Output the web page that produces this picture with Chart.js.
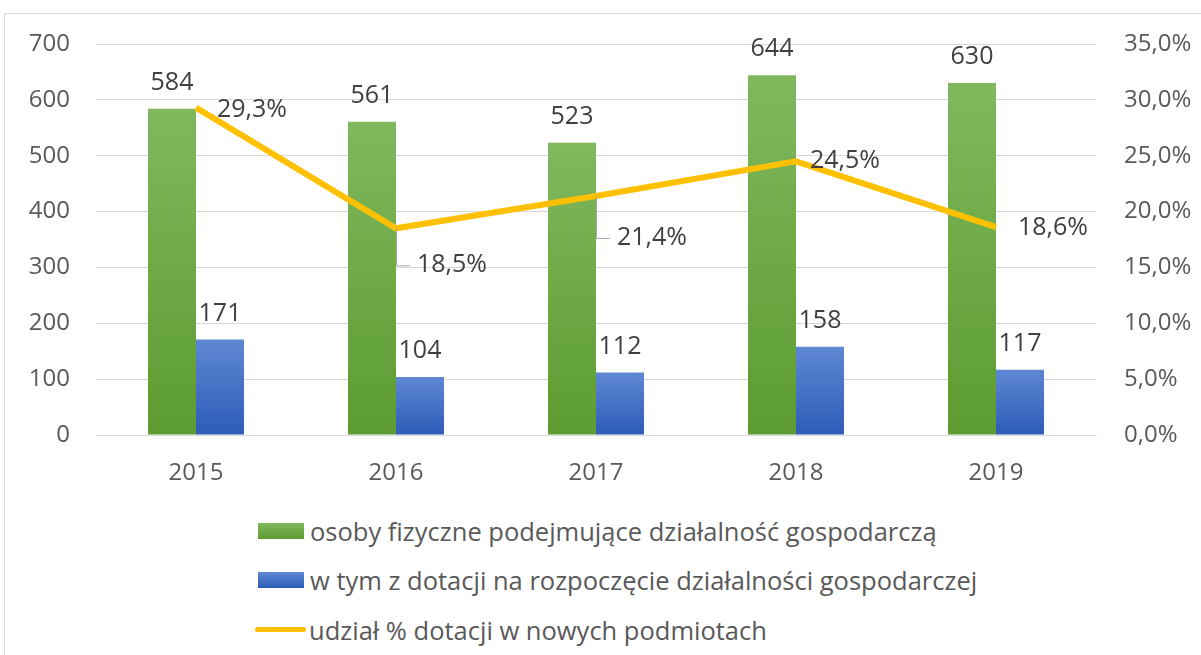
<!DOCTYPE html>
<html lang="pl">
<head>
<meta charset="UTF-8">
<title>Osoby fizyczne podejmujące działalność gospodarczą</title>
<script src="https://cdn.jsdelivr.net/npm/chart.js"></script>
<style>
    body {
        margin: 0;
        background: #fff;
        font-family: "Open Sans", sans-serif;
        overflow: hidden;
    }
    #frame {
        position: absolute;
        left: 4px;
        top: 13px;
        width: 1210px;
        height: 660px;
        border: 1px solid #d9d9d9;
    }
    #box {
        position: absolute;
        left: 0;
        top: 0;
        width: 1196px;
        height: 480px;
    }
    #legend {
        position: absolute;
        left: 253px;
        top: 492px;
        color: #595959;
        font-size: 25.5px;
    }
    #legend div {
        height: 49.5px;
        display: flex;
        align-items: center;
    }
    #legend span.sw {
        display: inline-block;
        width: 46px;
        height: 16px;
        margin-right: 6px;
    }
    #legend span.ln {
        display: inline-block;
        width: 51px;
        height: 5px;
        border-radius: 3px;
        margin: 0 3px 0 -3px;
    }
</style>
</head>
<body>
<div id="frame">
    <div id="box"><canvas id="chart"></canvas></div>
    <div id="legend"></div>
</div>

<script>
const years = ['2015', '2016', '2017', '2018', '2019'];
const osoby = [584, 561, 523, 644, 630];
const dotacje = [171, 104, 112, 158, 117];
const udzial = [29.3, 18.5, 21.4, 24.5, 18.6];

const labelNames = [
    'osoby fizyczne podejmujące działalność gospodarczą',
    'w tym z dotacji na rozpoczęcie działalności gospodarczej',
    'udział % dotacji w nowych podmiotach'
];

const greenTop = '#80b85e', greenBottom = '#5c9c30';
const blueTop = '#5f88d3', blueBottom = '#2c5cb8';

function pct(v) {
    return v.toFixed(1).replace('.', ',') + '%';
}

// gradient for each bar, top light -> bottom dark
function barGradient(top, bottom) {
    return function (ctx) {
        const chart = ctx.chart;
        if (!chart.chartArea || ctx.parsed === undefined) return bottom;
        const y = chart.scales.y;
        const y0 = y.getPixelForValue(0);
        const y1 = y.getPixelForValue(ctx.parsed.y);
        if (!isFinite(y0) || !isFinite(y1) || y0 === y1) return bottom;
        const g = chart.ctx.createLinearGradient(0, y1, 0, y0);
        g.addColorStop(0, top);
        g.addColorStop(1, bottom);
        return g;
    };
}

// offsets for the % labels: [dx, dy, leader]
const lineLabelPos = [[21, 2, false], [21, 37, true], [21, 42, true], [14, 0, false], [22, 1, false]];

const valueLabels = {
    id: 'valueLabels',
    afterDatasetsDraw(chart) {
        const ctx = chart.ctx;
        ctx.save();
        ctx.font = '25px "Open Sans"';
        ctx.fillStyle = '#404040';
        ctx.textBaseline = 'middle';
        chart.data.datasets.forEach((ds, i) => {
            const meta = chart.getDatasetMeta(i);
            meta.data.forEach((el, j) => {
                const v = ds.data[j];
                if (ds.type === 'line') {
                    const p = lineLabelPos[j];
                    if (p[2]) {
                        ctx.strokeStyle = '#a6a6a6';
                        ctx.lineWidth = 1;
                        ctx.beginPath();
                        ctx.moveTo(el.x + 0.5, el.y);
                        ctx.lineTo(el.x + 0.5, el.y + p[1] + 0.5);
                        ctx.lineTo(el.x + p[0] - 7, el.y + p[1] + 0.5);
                        ctx.stroke();
                    }
                    ctx.textAlign = 'left';
                    ctx.fillText(pct(v), el.x + p[0], el.y + p[1]);
                } else {
                    ctx.textAlign = 'center';
                    ctx.fillText(String(v), el.x, el.y - 26);
                }
            });
        });
        ctx.restore();
    }
};

const ctx = document.getElementById('chart').getContext('2d');
const chart = new Chart(ctx, {
    data: {
        labels: years,
        datasets: [
            {
                type: 'line',
                label: labelNames[2],
                data: udzial,
                yAxisID: 'y1',
                borderColor: '#FFC000',
                backgroundColor: '#FFC000',
                borderWidth: 6,
                pointRadius: 0,
                tension: 0,
                order: 0
            },
            {
                type: 'bar',
                label: labelNames[0],
                data: osoby,
                yAxisID: 'y',
                backgroundColor: barGradient(greenTop, greenBottom),
                categoryPercentage: 0.48,
                barPercentage: 1,
                order: 1
            },
            {
                type: 'bar',
                label: labelNames[1],
                data: dotacje,
                yAxisID: 'y',
                backgroundColor: barGradient(blueTop, blueBottom),
                categoryPercentage: 0.48,
                barPercentage: 1,
                order: 1
            }
        ]
    },
    options: {
        responsive: true,
        maintainAspectRatio: false,
        animation: false,
        layout: { padding: { top: 30, left: 0, right: 0, bottom: 0 } },
        plugins: {
            legend: { display: false },
            tooltip: { enabled: false }
        },
        scales: {
            x: {
                grid: { display: false, drawTicks: false },
                border: { color: '#d9d9d9' },
                ticks: { color: '#595959', font: { family: 'Open Sans', size: 24 }, padding: 24 },
                afterFit(s) { s.height = 59; s.paddingLeft = 0; s.paddingRight = 0; }
            },
            y: {
                position: 'left',
                min: 0,
                max: 700,
                ticks: { stepSize: 100, color: '#595959', font: { family: 'Open Sans', size: 24 }, padding: 26 },
                grid: { color: '#d9d9d9', drawTicks: false },
                border: { display: false },
                afterFit(s) { s.width = 91; s.paddingTop = 0; s.paddingBottom = 0; }
            },
            y1: {
                position: 'right',
                min: 0,
                max: 35,
                ticks: {
                    stepSize: 5,
                    color: '#595959',
                    font: { family: 'Open Sans', size: 24 },
                    padding: 28,
                    callback: v => pct(v)
                },
                grid: { display: false, drawTicks: false },
                border: { display: false },
                afterFit(s) { s.width = 105; s.paddingTop = 0; s.paddingBottom = 0; }
            }
        }
    },
    plugins: [valueLabels]
});

// legend below the chart, one item per row
const swatches = [
    'linear-gradient(' + greenTop + ',' + greenBottom + ')',
    'linear-gradient(' + blueTop + ',' + blueBottom + ')'
];
const legend = document.getElementById('legend');
[1, 2, 0].forEach((idx, k) => {
    const ds = chart.data.datasets[idx];
    const row = document.createElement('div');
    const mark = document.createElement('span');
    if (ds.type === 'line') {
        mark.className = 'ln';
        mark.style.background = ds.borderColor;
    } else {
        mark.className = 'sw';
        mark.style.background = swatches[k];
    }
    row.appendChild(mark);
    row.appendChild(document.createTextNode(ds.label));
    legend.appendChild(row);
});
</script>
</body>
</html>
